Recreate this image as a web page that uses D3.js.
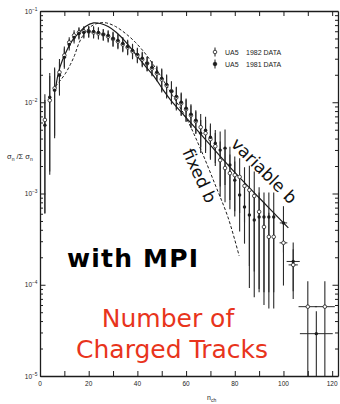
<!DOCTYPE html>
<html><head><meta charset="utf-8">
<script src="https://cdn.jsdelivr.net/npm/d3@7"></script>
<style>
html,body{margin:0;padding:0;background:#fff;}
svg{display:block;}
</style></head>
<body>
<svg id="chart" width="340" height="404"></svg>
<script>
// ---- axes ----
const xMajor = [0, 20, 40, 60, 80, 100, 120];
const xMinor = [0, 10, 20, 30, 40, 50, 60, 70, 80, 90, 100, 110, 120];
const yExponents = [-5, -4, -3, -2, -1];

// ---- model curves: P(n) ----
const varN = [6.4, 7.6, 9.2, 11, 13.3, 15.8, 18.7, 22, 24.8, 28, 31.4, 35, 39, 43, 47.4, 50.7, 53.5, 60, 66, 78, 90.5, 102];
const varP = [0.0142, 0.0213, 0.0288, 0.0370, 0.0476, 0.0568, 0.0677, 0.0740, 0.0730, 0.0677, 0.0582, 0.0465, 0.0344, 0.0254, 0.0183, 0.0135, 0.0107, 0.0068, 0.00447, 0.00195, 0.00087, 0.00042];

const fixN = [6.4, 8.4, 10.5, 12.5, 14.2, 15.8, 17.4, 19.5, 21.9, 24.4, 27.3, 31, 35.1, 39.2, 44.1, 49.4, 54.4, 60.1, 65.8, 72, 77.3, 81.8];
const fixP = [0.0150, 0.0174, 0.0208, 0.0260, 0.0327, 0.0431, 0.0526, 0.0628, 0.0703, 0.0740, 0.0740, 0.0677, 0.0568, 0.0453, 0.0319, 0.0197, 0.0119, 0.00668, 0.00314, 0.00124, 0.00054, 0.000207];

// ---- UA5 1982 data (open circles) ----
const n82 = [2,4,6,8,10,12,14,16,18,20,22,24,26,28,30,32,34,36,38,40,42,44,46,48,50,52,54,56,58,60,62,64,66,68,70,72,74,76,78,80,82,84,86,88,90,92,94,96,100,104,110,117];
const p82 = [0.0064,0.0105,0.0142,0.0213,0.0326,0.0453,0.0540,0.0582,0.0597,0.0597,0.0582,0.0568,0.0554,0.0526,0.0494,0.0464,0.0430,0.0399,0.0361,0.0326,0.0295,0.0267,0.0235,0.0207,0.0178,0.0153,0.0132,0.0113,0.00975,0.00839,0.00721,0.00620,0.00533,0.00458,0.00394,0.00330,0.00232,0.00190,0.00167,0.00159,0.00152,0.00121,0.00109,0.00094,0.00063,0.00043,0.000335,0.000335,0.000288,0.000165,0.0000575,0.0000575];
const e82 = [0.0058,0.0089,0.0099,0.0085,0.0082,0.0063,0.0076,0.0081,0.0084,0.0084,0.0081,0.0080,0.0078,0.0074,0.0089,0.0084,0.0077,0.0072,0.0065,0.0059,0.0053,0.0048,0.0042,0.0037,0.0050,0.0043,0.0037,0.0032,0.0027,0.0023,0.0020,0.0017,0.0021,0.0018,0.0016,0.0013,0.0014,0.0011,0.0010,0.00095,0.00091,0.00073,0.00093,0.00080,0.00054,0.00037,0.00028,0.00028,0.00019,0.00008,0.000052,0.000052];
const w82 = [0,0,0,0,0,0,0,0,0,0,0,0,0,0,0,0,0,0,0,0,0,0,0,0,0,0,0,0,0,0,0,0,0,0,0,0,0,0,0,0,0,0,0,0,0,0,0,0,1.6,1.9,3.8,4.1];

// ---- UA5 1981 data (filled circles) ----
const n81 = [2,4,6,8,10,12,14,16,18,20,22,24,26,28,30,32,34,36,38,40,42,44,46,48,50,52,54,56,58,60,62,64,66,68,70,72,74,76,78,80,82,84,86,88,90,92,94,96,100,104,113.5];
const p81 = [0.00561,0.01134,0.01352,0.01973,0.03103,0.0430,0.0513,0.0568,0.0582,0.0597,0.0597,0.0582,0.0554,0.0540,0.0501,0.0476,0.0441,0.0409,0.0370,0.0335,0.0303,0.0267,0.0241,0.0213,0.0183,0.0157,0.0132,0.0116,0.0100,0.0086,0.00739,0.00636,0.00458,0.00494,0.00414,0.00356,0.00299,0.00314,0.00205,0.00140,0.000963,0.000712,0.000582,0.000513,0.000553,0.000553,0.000553,0.000553,0.000476,0.00018,0.0000291];
const e81 = [0.0050,0.0096,0.0095,0.0079,0.0078,0.0060,0.0072,0.0080,0.0081,0.0084,0.0084,0.0081,0.0078,0.0076,0.0090,0.0086,0.0079,0.0074,0.0067,0.0060,0.0055,0.0048,0.0043,0.0038,0.0051,0.0044,0.0037,0.0032,0.0028,0.0024,0.0021,0.0018,0.0018,0.0020,0.0017,0.0014,0.0018,0.0019,0.0012,0.00084,0.00058,0.00043,0.00049,0.00044,0.00047,0.00047,0.00047,0.00047,0.00025,0.00011,0.000022];
const w81 = [0,0,0,0,0,0,0,0,0,0,0,0,0,0,0,0,0,0,0,0,0,0,0,0,0,0,0,0,0,0,0,0,0,0,0,0,0,0,0,0,0,0,0,0,0,0,0,0,1.5,2.7,6.75];

const legendLabels = [["UA5", "1982 DATA"], ["UA5", "1981 DATA"]];

// ---- drawing ----
const svg = d3.select("#chart");
const ink = "#1c1c1c";
const x = d3.scaleLinear().domain([0, 122.4]).range([40, 338]);
const y = d3.scaleLog().domain([1e-5, 1e-1]).range([376, 11]);
const [yBot, yTop] = y.range();

// minor log ticks 2..9 in each decade plus decade ticks
const yTickVals = [];
yExponents.forEach(e => {
  for (let m = 1; m <= 9; m++) {
    const v = m * Math.pow(10, e);
    if (v <= 1e-1 * 1.0001) yTickVals.push(v);
  }
});
const isDecade = v => Math.abs(Math.log10(v) - Math.round(Math.log10(v))) < 1e-6;

function styleAxis(g) {
  g.select(".domain").attr("stroke", ink).attr("stroke-width", 1.3);
  g.selectAll(".tick line").attr("stroke", ink).attr("stroke-width", 1);
  g.selectAll(".tick text").remove();
}

svg.append("g").attr("transform", `translate(0,${yBot})`)
  .call(d3.axisBottom(x).tickValues(xMinor).tickSizeInner(-5).tickSizeOuter(0).tickFormat(""))
  .call(styleAxis);
svg.append("g").attr("transform", `translate(0,${yTop})`)
  .call(d3.axisTop(x).tickValues(xMinor).tickSizeInner(-5).tickSizeOuter(0).tickFormat(""))
  .call(styleAxis);
svg.append("g").attr("transform", `translate(${x.range()[0]},0)`)
  .call(d3.axisLeft(y).tickValues(yTickVals).tickSizeInner(-3).tickSizeOuter(0).tickFormat(""))
  .call(styleAxis)
  .call(g => g.selectAll(".tick line").filter(d => isDecade(d)).attr("x2", 5.5));
svg.append("g").attr("transform", `translate(${x.range()[1]},0)`)
  .call(d3.axisRight(y).tickValues(yTickVals).tickSizeInner(-3).tickSizeOuter(0).tickFormat(""))
  .call(styleAxis)
  .call(g => g.selectAll(".tick line").filter(d => isDecade(d)).attr("x2", -5.5));

// tick labels
const labelFont = "'Liberation Sans', Arial, sans-serif";
svg.append("g").selectAll("text").data(xMajor).join("text")
  .attr("x", d => x(d)).attr("y", yBot + 9.5)
  .attr("text-anchor", "middle")
  .attr("font-family", labelFont).attr("font-size", 6.5).attr("fill", ink)
  .text(d => d);

const yl = svg.append("g").selectAll("text").data(yExponents).join("text")
  .attr("x", 37.5).attr("y", e => y(Math.pow(10, e)) + 2.5)
  .attr("text-anchor", "end")
  .attr("font-family", labelFont).attr("font-size", 6.5).attr("fill", ink);
yl.append("tspan").text("10");
yl.append("tspan").attr("dy", -3).attr("font-size", 4.8).text(e => "\u2212" + (-e));

// axis titles
const yTitle = svg.append("text").attr("x", 7).attr("y", 159)
  .attr("font-family", labelFont).attr("font-size", 7.5).attr("fill", ink);
yTitle.append("tspan").text("\u03c3");
yTitle.append("tspan").attr("dy", 2).attr("font-size", 5).text("n");
yTitle.append("tspan").attr("dy", -2).text(" /\u03a3 \u03c3");
yTitle.append("tspan").attr("dy", 2).attr("font-size", 5).text("n");

const xTitle = svg.append("text").attr("x", 207).attr("y", 400)
  .attr("font-family", labelFont).attr("font-size", 7).attr("fill", ink);
xTitle.append("tspan").text("n");
xTitle.append("tspan").attr("dy", 2).attr("font-size", 5).text("ch");

// clip to the plotting frame
svg.append("clipPath").attr("id", "plotClip").append("rect")
  .attr("x", x.range()[0]).attr("y", yTop).attr("width", x.range()[1] - x.range()[0]).attr("height", yBot - yTop);
const plot = svg.append("g").attr("clip-path", "url(#plotClip)");

function rows(ns, ps, es, ws) {
  return ns.map((n, i) => ({ n, p: ps[i], e: es[i], w: ws[i] }));
}
const d82 = rows(n82, p82, e82, w82);
const d81 = rows(n81, p81, e81, w81);
const yLow = d => (d.p - d.e > 1e-5 ? y(d.p - d.e) : yBot + 2);

function errorBars(data) {
  plot.append("g").attr("stroke", "#2a2a2a").attr("stroke-width", 1.1)
    .selectAll("line.v").data(data).join("line")
    .attr("x1", d => x(d.n)).attr("x2", d => x(d.n))
    .attr("y1", d => y(d.p + d.e)).attr("y2", yLow);
  plot.append("g").attr("stroke", "#2a2a2a").attr("stroke-width", 1)
    .selectAll("line.h").data(data.filter(d => d.w > 0)).join("line")
    .attr("x1", d => x(d.n - d.w)).attr("x2", d => x(d.n + d.w))
    .attr("y1", d => y(d.p)).attr("y2", d => y(d.p));
}
errorBars(d82);
errorBars(d81);

// model curves
const line = d3.line().x(d => x(d[0])).y(d => y(d[1])).curve(d3.curveCatmullRom.alpha(0.5));
plot.append("path").datum(varN.map((n, i) => [n, varP[i]]))
  .attr("d", line).attr("fill", "none").attr("stroke", ink).attr("stroke-width", 1.2);
plot.append("path").datum(fixN.map((n, i) => [n, fixP[i]]))
  .attr("d", line).attr("fill", "none").attr("stroke", ink).attr("stroke-width", 1)
  .attr("stroke-dasharray", "3,2");

// markers
plot.append("g").selectAll("circle").data(d82).join("circle")
  .attr("cx", d => x(d.n)).attr("cy", d => y(d.p)).attr("r", 1.8)
  .attr("fill", "#fff").attr("stroke", ink).attr("stroke-width", 0.8);
plot.append("g").selectAll("circle").data(d81).join("circle")
  .attr("cx", d => x(d.n)).attr("cy", d => y(d.p)).attr("r", 1.7)
  .attr("fill", ink);

// legend
const legend = svg.append("g");
legendLabels.forEach((lab, i) => {
  const ly = 52 + i * 12;
  legend.append("line").attr("x1", 215).attr("x2", 215).attr("y1", ly - 4.5).attr("y2", ly + 4.5)
    .attr("stroke", ink).attr("stroke-width", 1);
  legend.append("circle").attr("cx", 215).attr("cy", ly).attr("r", 1.8)
    .attr("fill", i === 0 ? "#fff" : ink).attr("stroke", ink).attr("stroke-width", 0.8);
  legend.append("text").attr("x", 225).attr("y", ly + 2.5)
    .attr("font-family", labelFont).attr("font-size", 7).attr("fill", ink).text(lab[0]);
  legend.append("text").attr("x", 246).attr("y", ly + 2.5)
    .attr("font-family", labelFont).attr("font-size", 7).attr("fill", ink).text(lab[1]);
});

// curve annotations
const noteFont = "'DejaVu Sans', Verdana, sans-serif";
svg.append("text").attr("transform", "translate(230,145) rotate(45)")
  .attr("font-family", noteFont).attr("font-size", 17).attr("fill", "#111").text("variable b");
svg.append("text").attr("transform", "translate(182,152) rotate(65)")
  .attr("font-family", noteFont).attr("font-size", 17).attr("fill", "#111").text("fixed b");

// overlay titles
svg.append("text").attr("x", 67).attr("y", 267)
  .attr("font-family", noteFont).attr("font-weight", "bold").attr("font-size", 25)
  .attr("letter-spacing", 1.2).attr("fill", "#000").text("with MPI");
svg.append("text").attr("x", 168).attr("y", 327).attr("text-anchor", "middle")
  .attr("font-family", noteFont).attr("font-size", 25).attr("fill", "#e8341c").text("Number of");
svg.append("text").attr("x", 172).attr("y", 358).attr("text-anchor", "middle")
  .attr("font-family", noteFont).attr("font-size", 25).attr("fill", "#e8341c").text("Charged Tracks");
</script>
</body></html>
